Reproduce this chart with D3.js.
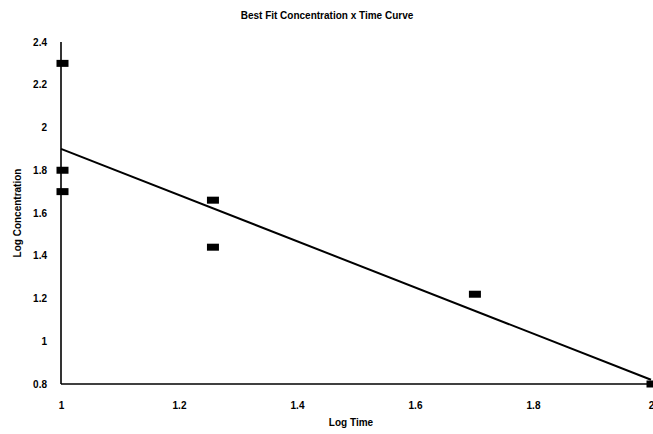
<!DOCTYPE html>
<html>
<head>
<meta charset="utf-8">
<script src="https://cdn.jsdelivr.net/npm/d3@7"></script>
<style>
  html, body { margin: 0; padding: 0; background: #fff; }
  svg { display: block; font-family: "Liberation Sans", Arial, sans-serif; }
</style>
</head>
<body>
<svg id="chart" width="653" height="434"></svg>
<script>
// Observed points (log time, log concentration)
const logTime = [1, 1, 1, 1.255, 1.255, 1.699, 2];
const logConc = [2.3, 1.8, 1.7, 1.66, 1.44, 1.22, 0.8];

// Best-fit line endpoints
const fitTime = [1, 2];
const fitConc = [1.9, 0.82];

const xTicks = [1, 1.2, 1.4, 1.6, 1.8, 2];
const yTicks = [0.8, 1, 1.2, 1.4, 1.6, 1.8, 2, 2.2, 2.4];

const svg = d3.select("#chart");
const x = d3.scaleLinear().domain([1, 2]).range([61, 651]);
const y = d3.scaleLinear().domain([0.8, 2.4]).range([384, 42]);

// Title
svg.append("text")
  .attr("x", 327).attr("y", 19)
  .attr("text-anchor", "middle")
  .attr("font-size", 10).attr("font-weight", "bold")
  .text("Best Fit Concentration x Time Curve");

// Axes drawn as plain lines with bold labels
svg.append("line")
  .attr("x1", x(1)).attr("x2", x(1))
  .attr("y1", y(2.4)).attr("y2", y(0.8))
  .attr("stroke", "#000").attr("stroke-width", 1.6);
svg.append("line")
  .attr("x1", x(1)).attr("x2", x(2))
  .attr("y1", y(0.8)).attr("y2", y(0.8))
  .attr("stroke", "#000").attr("stroke-width", 1.6);

const yAxis = d3.axisLeft(y).tickValues(yTicks).tickSize(0).tickPadding(14)
  .tickFormat(d3.format("~g"));
const gy = svg.append("g").attr("transform", `translate(${x(1)},0)`).call(yAxis);
gy.select(".domain").remove();
gy.selectAll("text").attr("font-size", 10).attr("font-weight", "bold")
  .attr("font-family", "Liberation Sans, Arial, sans-serif");

const xAxis = d3.axisBottom(x).tickValues(xTicks).tickSize(0).tickPadding(18)
  .tickFormat(d3.format("~g"));
const gx = svg.append("g").attr("transform", `translate(0,${y(0.8)})`).call(xAxis);
gx.select(".domain").remove();
gx.selectAll("text").attr("font-size", 10).attr("font-weight", "bold")
  .attr("font-family", "Liberation Sans, Arial, sans-serif");

// Axis titles
svg.append("text")
  .attr("x", 351).attr("y", 426)
  .attr("text-anchor", "middle")
  .attr("font-size", 10).attr("font-weight", "bold")
  .text("Log Time");
svg.append("text")
  .attr("transform", `translate(21,${(y(2.4) + y(0.8)) / 2}) rotate(-90)`)
  .attr("text-anchor", "middle")
  .attr("font-size", 10).attr("font-weight", "bold")
  .text("Log Concentration");

// Best-fit line
svg.append("line")
  .attr("x1", x(fitTime[0])).attr("y1", y(fitConc[0]))
  .attr("x2", x(fitTime[1])).attr("y2", y(fitConc[1]))
  .attr("stroke", "#000").attr("stroke-width", 2);

// Rectangular markers (slightly right of the data point, as plotted)
svg.append("g").selectAll("rect")
  .data(logTime.map((t, i) => [t, logConc[i]]))
  .join("rect")
  .attr("x", d => x(d[0]) - 4.5)
  .attr("y", d => y(d[1]) - 3.5)
  .attr("width", 12).attr("height", 7)
  .attr("fill", "#000");
</script>
</body>
</html>
